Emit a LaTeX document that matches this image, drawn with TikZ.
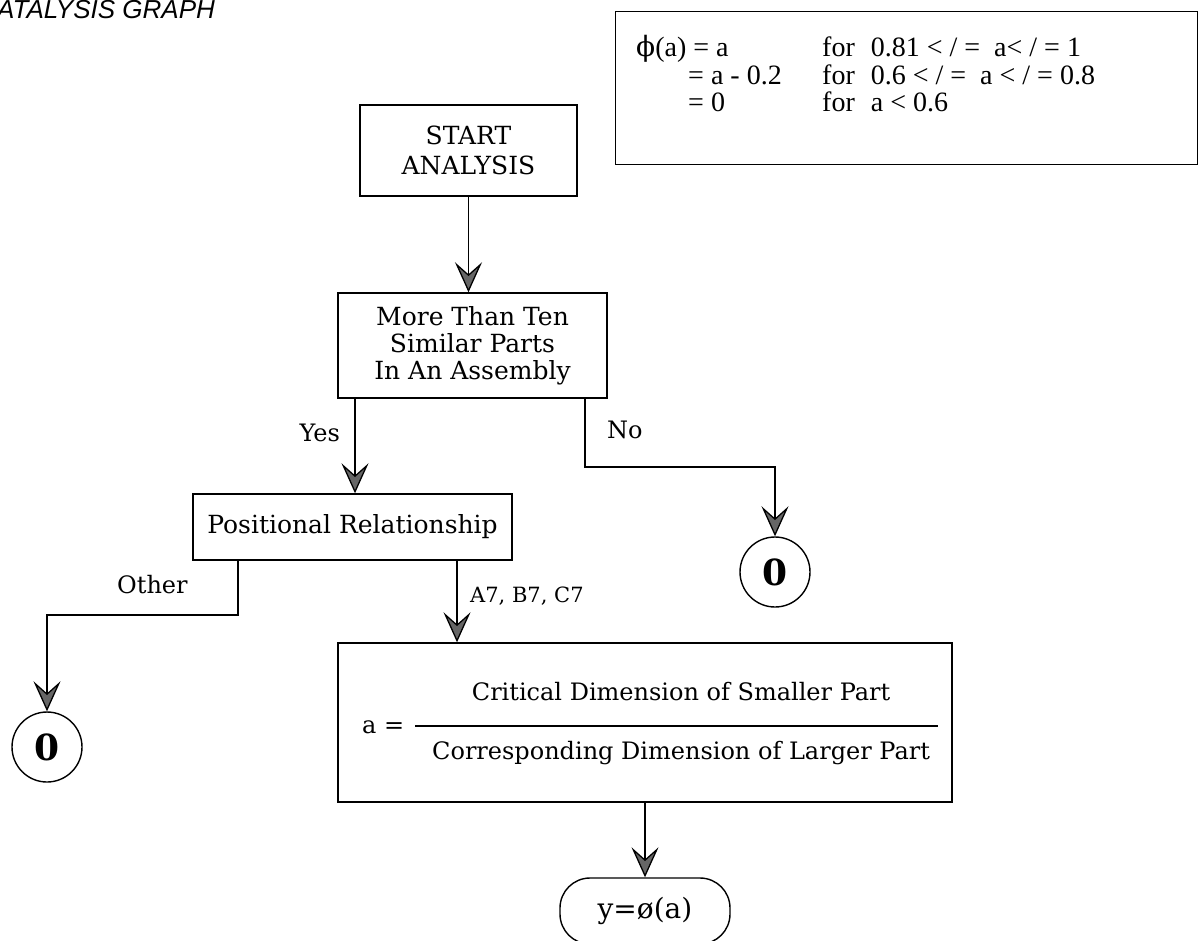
\documentclass[tikz,border=0pt]{standalone}
\usepackage{fontspec}
\setmainfont{DejaVu Serif}
\newfontfamily\fform{Liberation Serif}
\newfontfamily\fdv{DejaVu Serif}
\newfontfamily\fttl{Liberation Sans}
\usetikzlibrary{arrows.meta,calc,fit}
\begin{document}
\begin{tikzpicture}[x=1pt,y=-1pt,
  box/.style={draw,line width=1.4pt,inner sep=0pt,align=center,font=\fontsize{25}{27}\selectfont},
  lbl/.style={inner sep=0pt,font=\fontsize{24}{27}\selectfont},
  arr/.style={line width=1.3pt,-{Stealth[length=30pt,width=27pt,inset=12pt,fill=black!60]}},
  zero/.style={draw,circle,line width=1.4pt,minimum size=70pt,inner sep=0pt,font=\fontsize{36}{36}\bfseries\selectfont},
  ftext/.style={inner sep=0pt,anchor=base west,font=\fform\fontsize{28}{30}\selectfont}]
\useasboundingbox[fill=white] (0,0) rectangle (1201,940);
\clip (0,0) rectangle (1201,940);

% title
\node[anchor=base west,inner sep=0pt,font=\fttl\itshape\fontsize{26}{27}\selectfont] (title) at (-3,18.5) {ATALYSIS GRAPH};

% formula box
\node[draw,line width=1.4pt,minimum width=582pt,minimum height=153pt,anchor=north west,inner sep=0pt] (fbox) at (615,11) {};
\node[ftext] (f1a) at (636,56) {{\fdv ϕ}(a) = a};
\node[ftext] (f1b) at (822,56) {for\hspace{16pt}0.81 < / = \ a< / = 1};
\node[ftext] (f2a) at (688,84) {= a - 0.2};
\node[ftext] (f2b) at (822,84) {for\hspace{16pt}0.6 < / = \ a < / = 0.8};
\node[ftext] (f3a) at (688,111) {= 0};
\node[ftext] (f3b) at (822,111) {for\hspace{16pt}a < 0.6};

% flowchart nodes
\node[box,minimum width=217pt,minimum height=91pt,font=\fontsize{25}{30}\selectfont] (start) at (468.5,150.5) {START\\ANALYSIS};
\node[box,minimum width=269pt,minimum height=105pt] (q) at (472.5,345.5) {More Than Ten\\Similar Parts\\In An Assembly};
\node[box,minimum width=319pt,minimum height=66pt] (pos) at (352.5,527) {Positional Relationship};
\node[zero] (z1) at (775,572) {0};
\node[zero] (z2) at (47,747) {0};

% calc box contents
\node[lbl,anchor=west] (den) at (432,753) {Corresponding Dimension of Larger Part};
\coordinate (numy) at (0,692);
\node[lbl] (num) at (den.center |- numy) {Critical Dimension of Smaller Part};
\node[lbl,anchor=west] (aeq) at (362,727) {a =};
\coordinate (fl) at (415,726);
\draw[line width=1.3pt] (fl) -- ($(den.east |- fl)+(8,0)$);
\coordinate (boxtl) at (338,643);
\coordinate (bb) at (0,802);
\coordinate (boxbr) at ($(den.east |- bb)+(22,0)$);
\node[draw,line width=1.4pt,inner sep=0pt,fit=(boxtl)(boxbr)] (calc) {};

\node[box,rounded corners=30pt,minimum width=170pt,minimum height=66pt,font=\fontsize{28}{30}\selectfont] (term) at (645,911) {y=ø(a)};

% connectors
\draw[arr] (start.south) -- (start.south |- q.north);
\coordinate (yx) at (355,0);
\draw[arr] (yx |- q.south) -- (yx |- pos.north);
\coordinate (nx) at (585,0);
\coordinate (ny) at (0,467);
\draw[arr] (nx |- q.south) -- (nx |- ny) -| (z1.north);
\coordinate (ox) at (238,0);
\coordinate (oy) at (0,615);
\draw[arr] (ox |- pos.south) -- (ox |- oy) -| (z2.north);
\coordinate (ax) at (457,0);
\draw[arr] (ax |- pos.south) -- (ax |- calc.north);
\draw[arr] (term.north |- calc.south) -- (term.north);

% labels
\node[lbl,anchor=east] (lyes) at (340,433) {Yes};
\node[lbl,anchor=west] (lno) at (607,430) {No};
\node[lbl,anchor=west] (loth) at (117,585) {Other};
\node[lbl,anchor=west,font=\fontsize{21}{24}\selectfont] (la7) at (470,596) {A7, B7, C7};
\end{tikzpicture}
\end{document}
